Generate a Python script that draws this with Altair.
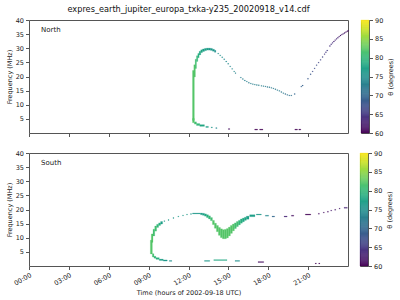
import altair as alt
import pandas as pd

FONT = "DejaVu Sans"
FBIN = 0.3    # frequency channel width (MHz)
TBIN = 0.075  # time bin width (hours)

# ---------------- North hemisphere ----------------
# extended segments: start time, end time, low freq, high freq, theta
north_band_t0 = [12.30, 12.40, 12.50, 12.60, 12.70, 12.80, 12.92, 13.05, 13.20, 13.35, 13.50, 13.65, 13.80, 13.95,
                 12.30, 12.44, 12.60, 12.85, 13.30, 13.70, 14.05, 15.00, 16.98, 17.35, 20.00, 20.30]
north_band_t1 = [12.44, 12.52, 12.60, 12.70, 12.80, 12.92, 13.05, 13.20, 13.35, 13.50, 13.65, 13.80, 13.95, 14.06,
                 12.44, 12.60, 12.85, 13.20, 13.50, 13.80, 14.15, 15.10, 17.20, 17.60, 20.20, 20.45]
north_band_flo = [4.6, 20.0, 23.0, 25.5, 26.8, 27.8, 28.6, 29.0, 29.3, 29.5, 29.5, 29.4, 29.1, 28.7,
                  3.8, 3.3, 2.8, 2.5, 2.1, 2.0, 1.75, 1.4, 1.2, 1.2, 1.2, 1.2]
north_band_fhi = [22.0, 24.0, 26.0, 27.2, 28.0, 28.8, 29.3, 29.6, 29.8, 29.9, 29.9, 29.8, 29.5, 29.1,
                  5.0, 3.8, 3.2, 2.8, 2.2, 2.0, 1.75, 1.4, 1.2, 1.2, 1.2, 1.2]
north_band_theta = [82, 82, 81, 80, 79, 78, 78, 77, 77, 77, 76, 76, 76, 75,
                    82, 81, 80, 78, 77, 76, 74, 61, 60, 60, 60, 60]

# single-channel points: time, frequency, theta
north_pt_t = [14.20, 14.35, 14.50, 14.65, 14.80, 14.95, 15.10, 15.25, 15.40, 15.50,
              15.90, 16.05, 16.20, 16.35, 16.50, 16.65, 16.80, 16.95, 17.10, 17.25, 17.45, 17.60, 17.75, 17.90,
              18.05, 18.20, 18.35, 18.50, 18.65, 18.80, 18.95, 19.10, 19.25, 19.40, 19.55, 19.70,
              19.95, 20.45, 20.55,
              20.95, 21.15, 21.30, 21.45, 21.60, 21.75, 21.90, 22.05, 22.20, 22.30, 22.40, 22.60, 22.70, 22.80,
              22.90, 23.00, 23.10, 23.20, 23.30, 23.40, 23.50, 23.60, 23.70, 23.80, 23.90, 23.97]
north_pt_f = [28.1, 27.5, 26.8, 26.1, 25.3, 24.5, 23.6, 22.7, 21.8, 21.2,
              19.6, 19.1, 18.6, 18.2, 17.8, 17.5, 17.3, 17.1, 17.0, 16.9, 16.7, 16.6, 16.5, 16.3,
              16.2, 16.0, 15.8, 15.5, 15.2, 14.9, 14.5, 14.1, 13.8, 13.5, 13.3, 13.3,
              13.8, 16.4, 16.8,
              19.2, 20.8, 21.8, 22.9, 24.0, 24.9, 25.9, 26.9, 27.9, 28.6, 29.2, 30.8, 31.4, 31.9,
              32.4, 32.9, 33.3, 33.7, 34.1, 34.5, 34.8, 35.1, 35.4, 35.7, 36.0, 36.2]
north_pt_theta = [75, 75, 75, 74, 74, 74, 74, 74, 74, 73,
                  73, 73, 73, 73, 73, 73, 73, 73, 73, 73, 73, 73, 72, 72,
                  72, 72, 72, 72, 72, 72, 72, 72, 71, 71, 71, 71,
                  70, 69, 69,
                  68, 68, 67, 67, 67, 66, 66, 66, 65, 65, 65, 64, 64, 64,
                  63, 63, 63, 63, 62, 62, 62, 62, 62, 61, 61, 61]

# ---------------- South hemisphere ----------------
south_band_t0 = [9.13, 9.20, 9.33, 9.46, 9.60, 9.75, 9.90, 12.30,
                 12.90, 13.05, 13.20, 13.35, 13.50, 13.65, 13.80, 13.95, 14.10, 14.25, 14.40, 14.55, 14.70,
                 14.85, 15.00, 15.15, 15.30, 15.45, 15.60, 15.75, 15.90, 16.05, 16.20, 16.35,
                 16.60, 17.10, 17.78, 18.28, 19.19, 19.74, 20.79, 23.70,
                 9.28, 9.40, 9.55, 9.80, 10.10, 10.55, 13.20, 13.90, 15.50, 17.23]
south_band_t1 = [9.28, 9.33, 9.46, 9.60, 9.75, 9.90, 10.05, 12.90,
                 13.05, 13.20, 13.35, 13.50, 13.65, 13.80, 13.95, 14.10, 14.25, 14.40, 14.55, 14.70, 14.85,
                 15.00, 15.15, 15.30, 15.45, 15.60, 15.75, 15.90, 16.05, 16.20, 16.35, 16.55,
                 17.00, 17.48, 18.03, 18.48, 19.42, 19.92, 21.20, 23.95,
                 9.40, 9.55, 9.80, 10.10, 10.40, 10.75, 13.60, 14.90, 15.85, 17.66]
south_band_flo = [4.4, 8.5, 10.8, 12.5, 13.8, 14.5, 15.0, 18.6,
                  18.3, 18.1, 17.8, 17.3, 16.8, 16.2, 14.8, 13.5, 12.3, 11.0, 10.2, 9.8, 9.8,
                  10.1, 10.8, 11.7, 12.6, 13.4, 14.1, 14.7, 15.3, 15.8, 16.3, 16.7,
                  17.6, 18.2, 17.8, 17.5, 17.5, 17.8, 18.2, 20.6,
                  3.3, 2.9, 2.5, 2.1, 1.9, 1.8, 1.8, 2.1, 1.8, 1.4]
south_band_fhi = [9.0, 11.2, 12.9, 14.0, 14.6, 15.1, 15.6, 18.6,
                  18.6, 18.5, 18.3, 18.0, 17.6, 17.0, 16.0, 15.0, 14.2, 13.5, 13.0, 12.7, 12.8,
                  13.1, 13.6, 14.2, 14.7, 15.1, 15.6, 16.0, 16.5, 16.8, 17.1, 17.5,
                  18.0, 18.2, 17.8, 17.5, 17.5, 17.8, 18.2, 20.6,
                  4.2, 3.3, 2.8, 2.3, 2.0, 1.8, 1.8, 2.1, 1.8, 1.4]
south_band_theta = [82, 82, 81, 81, 80, 79, 77, 76,
                    77, 77, 78, 79, 80, 81, 82, 82, 82, 82, 82, 82, 82,
                    82, 82, 82, 82, 81, 81, 80, 79, 78, 78, 77,
                    77, 76, 74, 70, 63, 61, 60, 63,
                    81, 80, 79, 77, 76, 75, 76, 78, 75, 61]

south_pt_t = [10.15, 10.46, 10.83, 11.20, 11.55, 11.85, 12.15,
              21.77, 22.14, 22.45, 22.70, 23.00, 23.33,
              21.54, 21.80]
south_pt_f = [15.9, 16.3, 17.0, 17.5, 17.9, 18.2, 18.4,
              18.5, 18.9, 19.2, 19.6, 19.9, 20.3,
              0.9, 0.9]
south_pt_theta = [76, 76, 76, 76, 76, 76, 76,
                  61, 61, 61, 62, 62, 62,
                  60, 60]

x_ticks = [0, 3, 6, 9, 12, 15, 18, 21]
y_ticks = [5, 10, 15, 20, 25, 30, 35, 40]
cbar_ticks = [60, 65, 70, 75, 80, 85, 90]

TITLE = "expres_earth_jupiter_europa_txka-y235_20020918_v14.cdf"


def build(bt0, bt1, blo, bhi, bth, pt, pf, pth):
    rows = []
    for a, b, lo, hi, th in zip(bt0, bt1, blo, bhi, bth):
        rows.append(dict(t0=a, t1=b, f0=lo - FBIN / 2, f1=hi + FBIN / 2, theta=th))
    for t, f, th in zip(pt, pf, pth):
        rows.append(dict(t0=t, t1=t + TBIN, f0=f - FBIN / 2, f1=f + FBIN / 2, theta=th))
    return pd.DataFrame(rows)


north = build(north_band_t0, north_band_t1, north_band_flo, north_band_fhi, north_band_theta,
              north_pt_t, north_pt_f, north_pt_theta)
south = build(south_band_t0, south_band_t1, south_band_flo, south_band_fhi, south_band_theta,
              south_pt_t, south_pt_f, south_pt_theta)

color_scale = alt.Scale(scheme="viridis", domain=[60, 90])
W, H = 319, 113
xscale = alt.Scale(domain=[0, 24], nice=False, zero=False)
yscale = alt.Scale(domain=[0, 40], nice=False, zero=False)


def panel(df, label, bottom, title=None):
    if bottom:
        xaxis = alt.Axis(values=x_ticks, labelExpr="(datum.value < 10 ? '0' : '') + datum.value + ':00'",
                         labelAngle=330, labelAlign="right", labelBaseline="top", labelOverlap=False,
                         title="Time (hours of 2002-09-18 UTC)", titlePadding=3)
    else:
        xaxis = alt.Axis(values=x_ticks, labels=False, title=None)
    base = alt.Chart(df).mark_rect(strokeWidth=0.2).encode(
        x=alt.X("t0:Q", scale=xscale, axis=xaxis),
        x2="t1:Q",
        y=alt.Y("f0:Q", scale=yscale,
                axis=alt.Axis(values=y_ticks, tickCount=8, title="Frequency (MHz)", titlePadding=3,
                              labelOverlap=False, labelFlush=False)),
        y2="f1:Q",
        color=alt.Color("theta:Q", scale=color_scale, legend=None),
        stroke=alt.Stroke("theta:Q", scale=color_scale, legend=None),
    )
    txt = alt.Chart(pd.DataFrame({"label": [label]})).mark_text(
        align="left", baseline="middle", fontSize=7, font=FONT, color="#222"
    ).encode(x=alt.value(12), y=alt.value(10), text="label:N")
    props = dict(width=W, height=H)
    if title:
        props["title"] = alt.TitleParams(title, fontSize=8.2, fontWeight="normal", font=FONT,
                                         color="#111", offset=3)
    return alt.layer(base, txt).properties(**props)


cb_lo = [60 + 0.25 * i for i in range(120)]
cb_df = pd.DataFrame({"v": cb_lo, "v2": [v + 0.25 for v in cb_lo]})


def colorbar():
    return alt.Chart(cb_df).mark_rect(strokeWidth=0.3).encode(
        y=alt.Y("v:Q", scale=alt.Scale(domain=[60, 90], nice=False, zero=False),
                axis=alt.Axis(orient="right", values=cbar_ticks, title="θ (degrees)",
                              titleAngle=270, titleBaseline="top", titlePadding=5, labelOverlap=False)),
        y2="v2:Q",
        color=alt.Color("v:Q", scale=color_scale, legend=None),
        stroke=alt.Stroke("v:Q", scale=color_scale, legend=None),
    ).properties(width=8, height=H)


top = alt.hconcat(panel(north, "North", False, TITLE), colorbar(), spacing=10)
bot = alt.hconcat(panel(south, "South", True), colorbar(), spacing=10)

chart = alt.vconcat(top, bot, spacing=11).properties(
    padding={"left": 5, "top": 4, "right": 2, "bottom": 1}
).configure_view(stroke="#555", strokeWidth=1).configure_axis(
    labelFont=FONT, titleFont=FONT, labelFontSize=6.5, titleFontSize=6.5,
    labelColor="#222", titleColor="#222", tickColor="#555", tickSize=3.5,
    domain=False, grid=False, labelPadding=2, titleFontWeight="normal"
)

chart.save("out.html", embed_options={"renderer": "svg", "actions": False})
